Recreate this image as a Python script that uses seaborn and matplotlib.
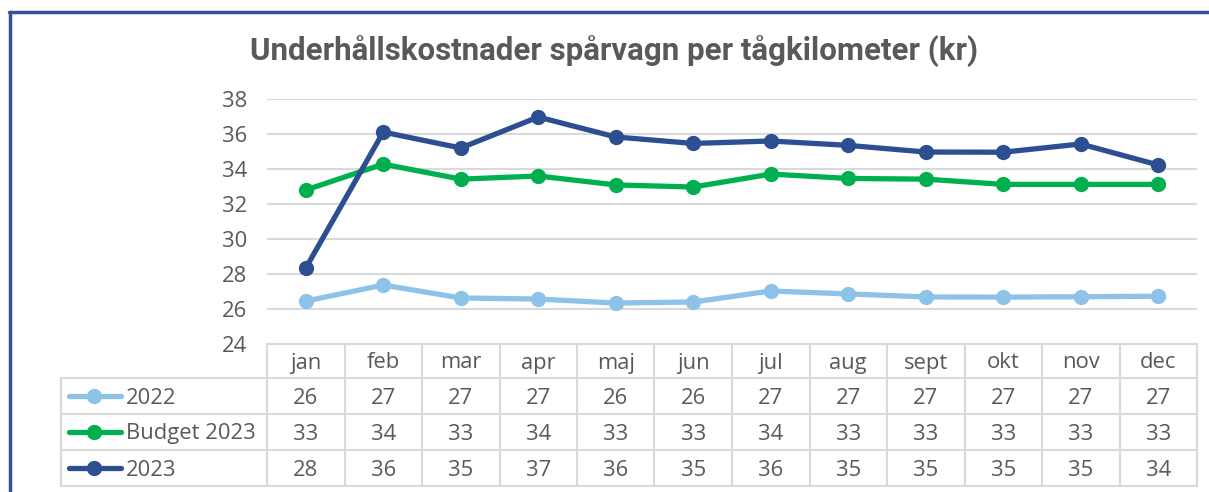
import numpy as np
import pandas as pd
import matplotlib
matplotlib.use("Agg")
import matplotlib.pyplot as plt
import seaborn as sns
from matplotlib.lines import Line2D

# data
months = ["jan", "feb", "mar", "apr", "maj", "jun", "jul", "aug", "sept", "okt", "nov", "dec"]
v2022 = [26.45, 27.37, 26.63, 26.57, 26.34, 26.4, 27.03, 26.86, 26.69, 26.68, 26.7, 26.73]
budget2023 = [32.8, 34.28, 33.42, 33.6, 33.09, 32.97, 33.71, 33.46, 33.42, 33.12, 33.12, 33.12]
v2023 = [28.34, 36.11, 35.2, 36.97, 35.83, 35.46, 35.6, 35.35, 34.97, 34.96, 35.43, 34.23]
series_names = ["2022", "Budget 2023", "2023"]
colors = ["#8dc3e8", "#00b050", "#2c4f91"]

df = pd.DataFrame({
    "month": months * 3,
    "value": v2022 + budget2023 + v2023,
    "serie": np.repeat(series_names, len(months)),
})

sns.set_theme(style="white")
plt.rcParams["font.family"] = ["Open Sans", "DejaVu Sans"]
grey = "#595959"
gridc = "#d9d9d9"
fs = 15.8

W, H = 1209, 492
fig = plt.figure(figsize=(W / 100, H / 100), dpi=100)

def fx(px):
    return px / W

def fy(py):
    return 1 - py / H

left, right, top, bottom = 267, 1197, 99, 344
ax = fig.add_axes([fx(left), fy(bottom), fx(right - left), fy(top) - fy(bottom)])

sns.lineplot(data=df, x="month", y="value", hue="serie", palette=colors,
             marker="o", markersize=11, markeredgewidth=0, linewidth=3.8,
             legend=False, ax=ax, sort=False)

ax.set_xlim(-0.5, len(months) - 0.5)
ax.set_ylim(24, 38)
ax.set_yticks(range(24, 39, 2))
ax.yaxis.grid(True, color=gridc, linewidth=1.5)
ax.set_axisbelow(True)
for s in ax.spines.values():
    s.set_visible(False)
ax.set_xticks([])
ax.set_xlabel("")
ax.set_ylabel("")
ax.tick_params(axis="y", length=0, pad=14, labelsize=fs, labelcolor=grey)

fig.text(fx(614), fy(52), "Underhållskostnader spårvagn per tågkilometer (kr)",
         ha="center", va="center", fontsize=22.5, fontweight="bold", color=grey,
         family=["Roboto", "DejaVu Sans"])

# data table under the plot
col_w = (right - left) / len(months)
rows_y = [344, 378, 414, 450, 486]
tab_left = 61
dy = 2  # small downward nudge of table text

def hline(x0, x1, y, c=gridc, lw=1.5):
    fig.add_artist(Line2D([fx(x0), fx(x1)], [fy(y), fy(y)], color=c, lw=lw))

def vline(x, y0, y1, c=gridc, lw=1.5):
    fig.add_artist(Line2D([fx(x), fx(x)], [fy(y0), fy(y1)], color=c, lw=lw))

hline(left, right, rows_y[0])
for y in rows_y[1:]:
    hline(tab_left, right, y)
vline(tab_left, rows_y[1], rows_y[-1])
for k in range(len(months) + 1):
    vline(left + k * col_w, rows_y[0], rows_y[-1])

for k, m in enumerate(months):
    fig.text(fx(left + (k + 0.5) * col_w), fy((rows_y[0] + rows_y[1]) / 2 + dy), m,
             ha="center", va="center", fontsize=fs, color=grey)

for r, (name, vals, c) in enumerate(zip(series_names, [v2022, budget2023, v2023], colors)):
    yc = (rows_y[r + 1] + rows_y[r + 2]) / 2
    fig.add_artist(Line2D([fx(69), fx(121)], [fy(yc), fy(yc)], color=c, lw=3.8,
                          solid_capstyle="round"))
    fig.add_artist(Line2D([fx(94)], [fy(yc)], color=c, marker="o", markersize=11,
                          markeredgewidth=0))
    fig.text(fx(126), fy(yc + dy), name, ha="left", va="center", fontsize=fs, color=grey)
    for k, v in enumerate(vals):
        fig.text(fx(left + (k + 0.5) * col_w), fy(yc + dy), str(int(round(v))),
                 ha="center", va="center", fontsize=fs, color=grey)

# outer frame (top and left edges visible)
border = "#2f5597"
fig.add_artist(Line2D([fx(9), fx(W)], [fy(12), fy(12)], color=border, lw=2.5))
fig.add_artist(Line2D([fx(10), fx(10)], [fy(12), 0], color=border, lw=2.5))

fig.savefig("out.png", dpi=100)
